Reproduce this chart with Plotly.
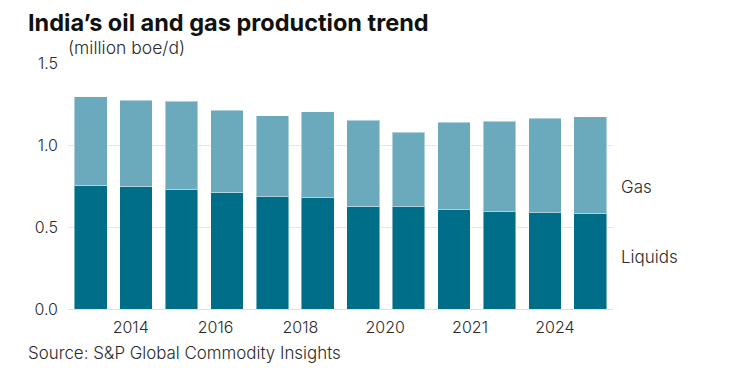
import numpy as np
import plotly.graph_objects as go

# Data (million boe/d)
bar_index = list(range(12))
liquids = [0.756, 0.750, 0.726, 0.711, 0.685, 0.679, 0.627, 0.624, 0.606, 0.593, 0.587, 0.581]
totals = [1.293, 1.273, 1.266, 1.213, 1.177, 1.203, 1.152, 1.079, 1.140, 1.146, 1.163, 1.171]
gas = [round(t - l, 3) for t, l in zip(totals, liquids)]
tick_labels = ["2014", "2016", "2018", "2020", "2021", "2024"]
y_ticks = [0.0, 0.5, 1.0, 1.5]

FONT = "Inter"
C_LIQ = "#006E89"
C_GAS = "#6BAABD"
TXT = "#2B2B2B"
W = 300

fig = go.Figure()
fig.add_bar(x=bar_index, y=liquids, name="Liquids", marker_color=C_LIQ,
            marker_line=dict(color="rgba(255,255,255,0.45)", width=1))
fig.add_bar(x=bar_index, y=gas, name="Gas", marker_color=C_GAS,
            marker_line=dict(color="rgba(255,255,255,0.45)", width=1))

tickvals = list(np.linspace(0.88, 10.22, len(tick_labels)))

fig.update_layout(
    barmode="stack",
    bargap=0.28,
    width=755, height=368,
    margin=dict(l=60, r=150, t=55, b=67),
    paper_bgcolor="white", plot_bgcolor="white",
    showlegend=False,
    font=dict(family=FONT, color=TXT, size=15, weight=W),
    xaxis=dict(range=[-0.5, 11.5], tickvals=tickvals, ticktext=tick_labels,
               showgrid=False, zeroline=False, showline=False, ticks="",
               ticklabelstandoff=7,
               tickfont=dict(size=16, color=TXT, weight=W)),
    yaxis=dict(range=[0, 1.5], tickvals=y_ticks, tickformat=".1f",
               showgrid=True, gridcolor="#E6E6E6", gridwidth=1,
               zeroline=True, zerolinecolor="#E0E0E0", zerolinewidth=1,
               showline=False, ticks="", ticklabelstandoff=9,
               tickfont=dict(size=16, color=TXT, weight=W)),
)

fig.add_annotation(text="<b>India\u2019s oil and gas production trend</b>", xref="paper", yref="paper",
                   x=0, y=1.0, xanchor="left", yanchor="middle", xshift=-42, yshift=41,
                   showarrow=False, font=dict(family=FONT, size=23.5, color="#111111"))
fig.add_annotation(text="(million boe/d)", xref="paper", yref="paper",
                   x=0, y=1.0, xanchor="left", yanchor="middle", xshift=-2, yshift=16,
                   showarrow=False, font=dict(family=FONT, size=17.5, color=TXT, weight=W))
fig.add_annotation(text="Source: S&P Global Commodity Insights", xref="paper", yref="paper",
                   x=0, y=0, xanchor="left", yanchor="middle", xshift=-42, yshift=-44,
                   showarrow=False, font=dict(family=FONT, size=16.9, color=TXT, weight=W))
fig.add_annotation(text="Gas", xref="paper", yref="y", x=1.0, y=0.745, xanchor="left",
                   xshift=6, showarrow=False, font=dict(family=FONT, size=17, color=TXT, weight=W))
fig.add_annotation(text="Liquids", xref="paper", yref="y", x=1.0, y=0.32, xanchor="left",
                   xshift=6, showarrow=False, font=dict(family=FONT, size=17, color=TXT, weight=W))

fig.write_html("out.html")
